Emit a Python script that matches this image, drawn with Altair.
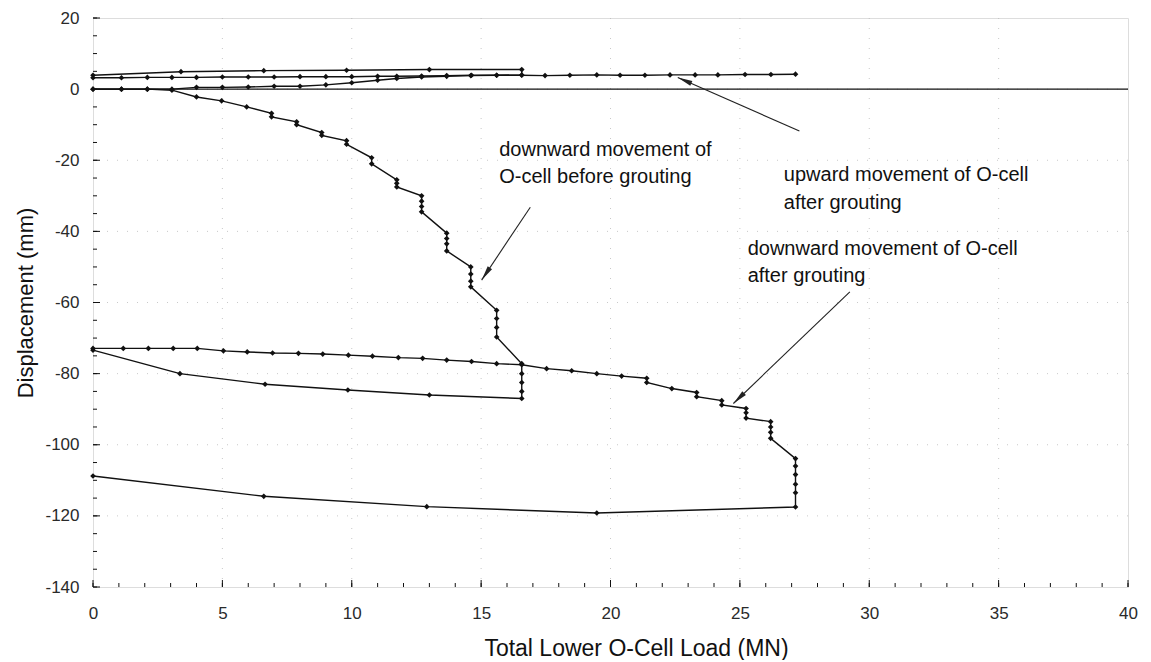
import math
import altair as alt
import pandas as pd

# ---------------- data ----------------
# downward movement of O-cell before grouting (loading, then unloading)
down_pre_x = [0, 1.1, 2.1, 3.05, 4.0, 4.97, 5.94, 6.9, 6.9, 7.87, 7.87, 8.84, 8.84, 9.8, 9.8,
              10.77, 10.77, 11.74, 11.74, 11.74, 12.7, 12.7, 12.7, 12.7, 13.67, 13.67, 13.67, 13.67,
              14.6, 14.6, 14.6, 14.6, 15.6, 15.6, 15.6, 15.6, 16.57, 16.57, 16.57, 16.57, 16.57,
              13.0, 9.85, 6.65, 3.36, 0]
down_pre_y = [0, 0, 0, -0.3, -2.2, -3.3, -5.0, -6.8, -7.8, -9.2, -10.0, -12.2, -13.0, -14.5, -15.5,
              -19.3, -21.0, -25.5, -26.5, -27.5, -30.0, -31.5, -33.0, -34.5, -40.5, -42.0, -43.5, -45.5,
              -50.0, -52.0, -54.0, -55.6, -62.2, -64.5, -67.0, -69.7, -77.2, -80.0, -82.5, -85.0, -87.0,
              -86.0, -84.6, -83.0, -80.0, -73.4]

# downward movement of O-cell after grouting (loading, then unloading)
down_post_x = [0, 1.17, 2.14, 3.1, 4.03, 5.04, 5.96, 6.94, 7.94, 8.88, 9.87, 10.8, 11.8, 12.74,
               13.67, 14.63, 15.6, 16.57, 17.53, 18.5, 19.47, 20.43, 21.4, 21.4, 22.37, 23.33, 23.33,
               24.3, 24.3, 25.24, 25.24, 25.24, 26.19, 26.19, 26.19, 26.19,
               27.15, 27.15, 27.15, 27.15, 27.15, 27.15, 19.47, 12.9, 6.6, 0]
down_post_y = [-72.9, -72.9, -72.9, -72.9, -72.9, -73.6, -73.9, -74.2, -74.3, -74.5, -74.8, -75.1,
               -75.5, -75.7, -76.2, -76.6, -77.2, -77.5, -78.6, -79.2, -80.0, -80.7, -81.3, -82.5,
               -84.2, -85.3, -86.5, -87.6, -88.8, -89.8, -91.0, -92.5, -93.5, -95.0, -96.5, -98.2,
               -103.9, -106.0, -108.4, -111.1, -113.5, -117.5, -119.2, -117.4, -114.5, -108.8]

# upward movement before grouting (loading, then unloading)
up_pre_x = [0, 1.1, 2.1, 3.05, 4.0, 5.0, 6.0, 7.0, 8.0, 9.0, 10.0, 11.0, 11.74, 12.7, 13.67,
            14.6, 15.6, 16.57, 16.57, 13.0, 9.8, 6.6, 3.4, 0]
up_pre_y = [0, 0, 0, 0, 0.5, 0.5, 0.6, 0.8, 0.8, 1.2, 1.8, 2.5, 3.0, 3.4, 3.6, 3.8, 3.9, 4.0,
            5.5, 5.5, 5.3, 5.2, 4.9, 3.9]

# upward movement of O-cell after grouting
up_post_x = [0, 1.1, 2.1, 3.05, 4.0, 5.0, 6.0, 7.0, 8.0, 9.0, 10.0, 11.0, 11.74, 12.7, 13.67,
             14.63, 15.6, 16.57, 17.47, 18.43, 19.47, 20.37, 21.33, 22.3, 23.27, 24.15, 25.2,
             26.2, 27.15]
up_post_y = [3.2, 3.2, 3.3, 3.3, 3.3, 3.4, 3.4, 3.4, 3.5, 3.5, 3.5, 3.6, 3.6, 3.7, 3.8,
             3.9, 3.9, 3.9, 3.8, 3.9, 4.0, 3.9, 3.9, 4.0, 4.0, 4.0, 4.1, 4.1, 4.2]

# annotations: text lines (x, y of each line) and arrows (tail -> tip)
note_text = ["upward movement of O-cell", "after grouting",
             "downward movement of", "O-cell before grouting",
             "downward movement of O-cell", "after grouting"]
note_x = [26.7, 26.7, 15.7, 15.7, 25.3, 25.3]
note_y = [-24.2, -31.9, -17.0, -24.7, -44.9, -52.6]

arrow_tail_x = [27.3, 16.9, 29.25]
arrow_tail_y = [-11.8, -33.2, -57.0]
arrow_tip_x = [22.6, 15.02, 24.75]
arrow_tip_y = [3.3, -53.7, -88.4]

x_ticks = [0, 5, 10, 15, 20, 25, 30, 35, 40]
y_ticks = [20, 0, -20, -40, -60, -80, -100, -120, -140]
y_minor = [v for v in range(-140, 21, 5)]
x_minor = [v for v in range(0, 41, 1)]

# ---------------- layout ----------------
W, H = 1035, 569
X_DOM, Y_DOM = [0, 40], [-140, 20]
FONT = "Liberation Sans"
INK = "#111111"
LAB = "#2a2a2a"

rows = []
for name, xs_, ys_ in [("down_pre", down_pre_x, down_pre_y),
                       ("down_post", down_post_x, down_post_y),
                       ("up_pre", up_pre_x, up_pre_y),
                       ("up_post", up_post_x, up_post_y)]:
    for i, (a, b) in enumerate(zip(xs_, ys_)):
        rows.append({"series": name, "i": i, "load": a, "disp": b})
df = pd.DataFrame(rows)

xs = alt.Scale(domain=X_DOM, nice=False, zero=False)
ys = alt.Scale(domain=Y_DOM, nice=False, zero=False)

xenc = alt.X("load:Q", scale=xs, axis=alt.Axis(
    values=x_ticks, title="Total Lower O-Cell Load (MN)", grid=False, ticks=False,
    domain=False, labelFlush=False, labelFont=FONT, labelFontSize=17, labelColor=LAB,
    labelPadding=18,
    titleFont=FONT, titleFontSize=23, titleFontWeight="normal", titleColor=INK,
    titlePadding=16, titleX=543, titleAlign="center"))
yenc = alt.Y("disp:Q", scale=ys, axis=alt.Axis(
    values=y_ticks, title="Displacement (mm)", grid=False, ticks=False, domain=False,
    labelFlush=False, labelFont=FONT, labelFontSize=17, labelColor=LAB, labelPadding=14,
    labelExpr="'' + datum.value",
    titleFont=FONT, titleFontSize=22, titleFontWeight="normal", titleColor=INK,
    titlePadding=7))

base = alt.Chart(df)

lines = base.mark_line(color=INK, strokeWidth=1.4).encode(
    x=xenc, y=yenc, detail="series:N", order="i:Q")
pts = base.mark_point(shape="diamond", filled=True, color=INK, size=32, opacity=1).encode(
    x=alt.X("load:Q", scale=xs), y=alt.Y("disp:Q", scale=ys))

# faint dotted grid
grid_y = alt.Chart(pd.DataFrame({"v": y_ticks[1:-1]})).mark_rule(
    color="#bbbbbb", strokeWidth=0.8, strokeDash=[1, 9]).encode(y=alt.Y("v:Q", scale=ys))
grid_x = alt.Chart(pd.DataFrame({"v": x_ticks[1:-1]})).mark_rule(
    color="#bbbbbb", strokeWidth=0.8, strokeDash=[1, 9]).encode(x=alt.X("v:Q", scale=xs))

# zero line
zero = alt.Chart(pd.DataFrame({"v": [0]})).mark_rule(color=INK, strokeWidth=1.2).encode(
    y=alt.Y("v:Q", scale=ys))

# inward ticks on the left and bottom axes
ymaj = alt.Chart(pd.DataFrame({"v": y_ticks})).mark_rule(color=INK, strokeWidth=1).encode(
    y=alt.Y("v:Q", scale=ys), x=alt.value(0), x2=alt.value(7))
ymin = alt.Chart(pd.DataFrame({"v": y_minor})).mark_rule(color=INK, strokeWidth=1).encode(
    y=alt.Y("v:Q", scale=ys), x=alt.value(0), x2=alt.value(4))
xmaj = alt.Chart(pd.DataFrame({"v": x_ticks})).mark_rule(color=INK, strokeWidth=1).encode(
    x=alt.X("v:Q", scale=xs), y=alt.value(H), y2=alt.value(H - 7))
xmin = alt.Chart(pd.DataFrame({"v": x_minor})).mark_rule(color=INK, strokeWidth=1).encode(
    x=alt.X("v:Q", scale=xs), y=alt.value(H), y2=alt.value(H - 4))

# annotation text
notes = alt.Chart(pd.DataFrame({"t": note_text, "x": note_x, "y": note_y})).mark_text(
    align="left", baseline="middle", font=FONT, fontSize=20, color=INK).encode(
    x=alt.X("x:Q", scale=xs), y=alt.Y("y:Q", scale=ys), text="t:N")

# arrows
px_per_x = W / (X_DOM[1] - X_DOM[0])
px_per_y = H / (Y_DOM[1] - Y_DOM[0])
arr_rows = []
for k in range(len(arrow_tip_x)):
    dx = (arrow_tip_x[k] - arrow_tail_x[k]) * px_per_x
    dy = -(arrow_tip_y[k] - arrow_tail_y[k]) * px_per_y
    ang = math.degrees(math.atan2(dx, -dy)) % 360
    arr_rows.append({"k": k, "x": arrow_tail_x[k], "y": arrow_tail_y[k],
                     "x2": arrow_tip_x[k], "y2": arrow_tip_y[k], "ang": ang})
adf = pd.DataFrame(arr_rows)
shafts = alt.Chart(adf).mark_rule(color="#222222", strokeWidth=1.1).encode(
    x=alt.X("x:Q", scale=xs), y=alt.Y("y:Q", scale=ys), x2="x2:Q", y2="y2:Q")
heads = alt.Chart(adf).mark_point(
    shape="M0,0L-0.35,2L0.35,2Z", filled=True, color="#222222", size=220, opacity=1).encode(
    x=alt.X("x2:Q", scale=xs), y=alt.Y("y2:Q", scale=ys), angle=alt.Angle("ang:Q", scale=None))

chart = alt.layer(grid_y, grid_x, zero, lines, pts, ymaj, ymin, xmaj, xmin,
                  shafts, heads, notes).properties(
    width=W, height=H,
    autosize=alt.AutoSizeParams(type="none"),
    padding={"left": 85, "top": 10, "right": 15, "bottom": 73},
).configure_view(stroke=INK, strokeWidth=1.2).configure(background="white")

chart.save("out.html", embed_options={"renderer": "svg", "actions": False})
